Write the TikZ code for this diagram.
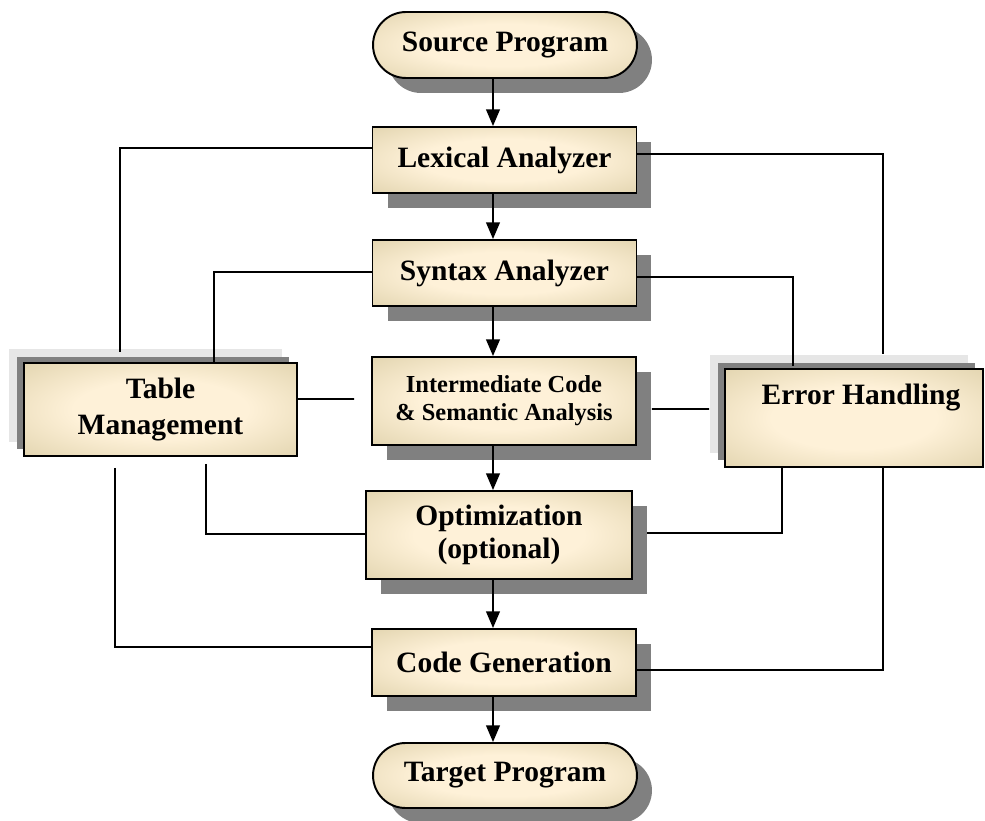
\documentclass[tikz,border=0pt]{standalone}
\usepackage{fontspec}
\setmainfont{Liberation Serif}
\usetikzlibrary{positioning, arrows.meta, shadows, shapes.misc}

\definecolor{boxedge}{RGB}{210,196,152}
\definecolor{boxmid}{RGB}{254,241,216}
\definecolor{shadedark}{RGB}{128,128,128}
\definecolor{shadelight}{RGB}{230,230,230}

% soft glow, light in the middle, tan towards the border
\pgfdeclareradialshading{boxglow}{\pgfpoint{0bp}{0bp}}{%
  color(0bp)=(boxmid); color(16bp)=(boxmid); color(48bp)=(boxedge); color(70bp)=(boxedge)}

\begin{document}
\begin{tikzpicture}[
    x=0.02cm, y=-0.02cm,
    stage/.style={draw, line width=1.1pt, shade, shading=boxglow, inner sep=0pt, align=center,
      minimum width=5.28cm, font=\bfseries\fontsize{16.8}{19}\selectfont,
      drop shadow={shadow xshift=0.3cm, shadow yshift=-0.3cm, fill=shadedark, opacity=1}},
    terminal/.style={stage, rounded rectangle},
    side/.style={draw, line width=1.1pt, shade, shading=boxglow, inner sep=0pt, align=center,
      font=\bfseries\fontsize{16.8}{20}\selectfont,
      drop shadow={shadow xshift=-0.3cm, shadow yshift=0.28cm, fill=shadelight, opacity=1},
      drop shadow={shadow xshift=-0.15cm, shadow yshift=0.13cm, fill=shadedark, opacity=1}},
    flow/.style={line width=1.1pt, -{Triangle[width=7.8pt, length=9.5pt]}},
    link/.style={line width=1pt}
  ]

  \useasboundingbox (0,0) rectangle (985,821);

  % main column
  \node[terminal, minimum height=1.32cm] (src) at (505,45) {Source Program};
  \node[stage, minimum height=1.32cm] (lex) at (504.5,160) {Lexical Analyzer};
  \node[stage, minimum height=1.32cm] (syn) at (504.5,273) {Syntax Analyzer};
  \node[stage, minimum height=1.76cm, font=\bfseries\fontsize{13.9}{16}\selectfont] (inter) at (504,401)
    {Intermediate Code\\\& Semantic Analysis};
  \node[stage, minimum width=5.32cm, minimum height=1.76cm] (opt) at (499,535) {Optimization\\(optional)};
  \node[stage, minimum height=1.34cm] (gen) at (504,662.5) {Code Generation};
  \node[terminal, minimum height=1.3cm] (tgt) at (505,775.5) {Target Program};

  % side boxes
  \node[side, minimum width=5.46cm, minimum height=1.86cm] (tab) at (160.5,409.5) {Table\\Management};
  \node[side, minimum width=5.16cm, minimum height=1.96cm] (err) at (854,418) {};
  \node[font=\bfseries\fontsize{16.8}{19}\selectfont] (errtext) at (861,398) {Error Handling};

  % arrows down the column
  \coordinate (spine) at (493,0);
  \draw[flow] (src.south -| spine) -- (lex.north -| spine);
  \draw[flow] (lex.south -| spine) -- (syn.north -| spine);
  \draw[flow] (syn.south -| spine) -- (inter.north -| spine);
  \draw[flow] (inter.south -| spine) -- (opt.north -| spine);
  \draw[flow] (opt.south -| spine) -- (gen.north -| spine);
  \draw[flow] (gen.south -| spine) -- (tgt.north -| spine);

  % links to the symbol table
  \draw[link] ([yshift=0.24cm]lex.west) -| ([xshift=-0.81cm, yshift=0.2cm]tab.north);
  \draw[link] ([yshift=0.02cm]syn.west) -| ([xshift=1.07cm]tab.north);
  \draw[link] ([yshift=0.21cm]tab.east) -- ([xshift=-0.34cm, yshift=0.04cm]inter.west);
  \draw[link] ([xshift=0.91cm, yshift=-0.14cm]tab.south) |- ([yshift=0.02cm]opt.west);
  \draw[link] ([xshift=-0.91cm, yshift=-0.22cm]tab.south) |- ([yshift=0.31cm]gen.west);

  % links to error handling
  \draw[link] ([yshift=0.12cm]lex.east) -| ([xshift=0.58cm, yshift=0.28cm]err.north);
  \draw[link] ([yshift=-0.08cm]syn.east) -| ([xshift=-1.22cm, yshift=0.04cm]err.north);
  \draw[link] ([xshift=0.3cm, yshift=-0.16cm]inter.east) -- ([xshift=-0.3cm, yshift=0.18cm]err.west);
  \draw[link] ([xshift=-1.44cm]err.south) |- ([xshift=0.28cm, yshift=0.04cm]opt.east);
  \draw[link] ([xshift=0.58cm]err.south) |- ([yshift=-0.15cm]gen.east);

\end{tikzpicture}
\end{document}
